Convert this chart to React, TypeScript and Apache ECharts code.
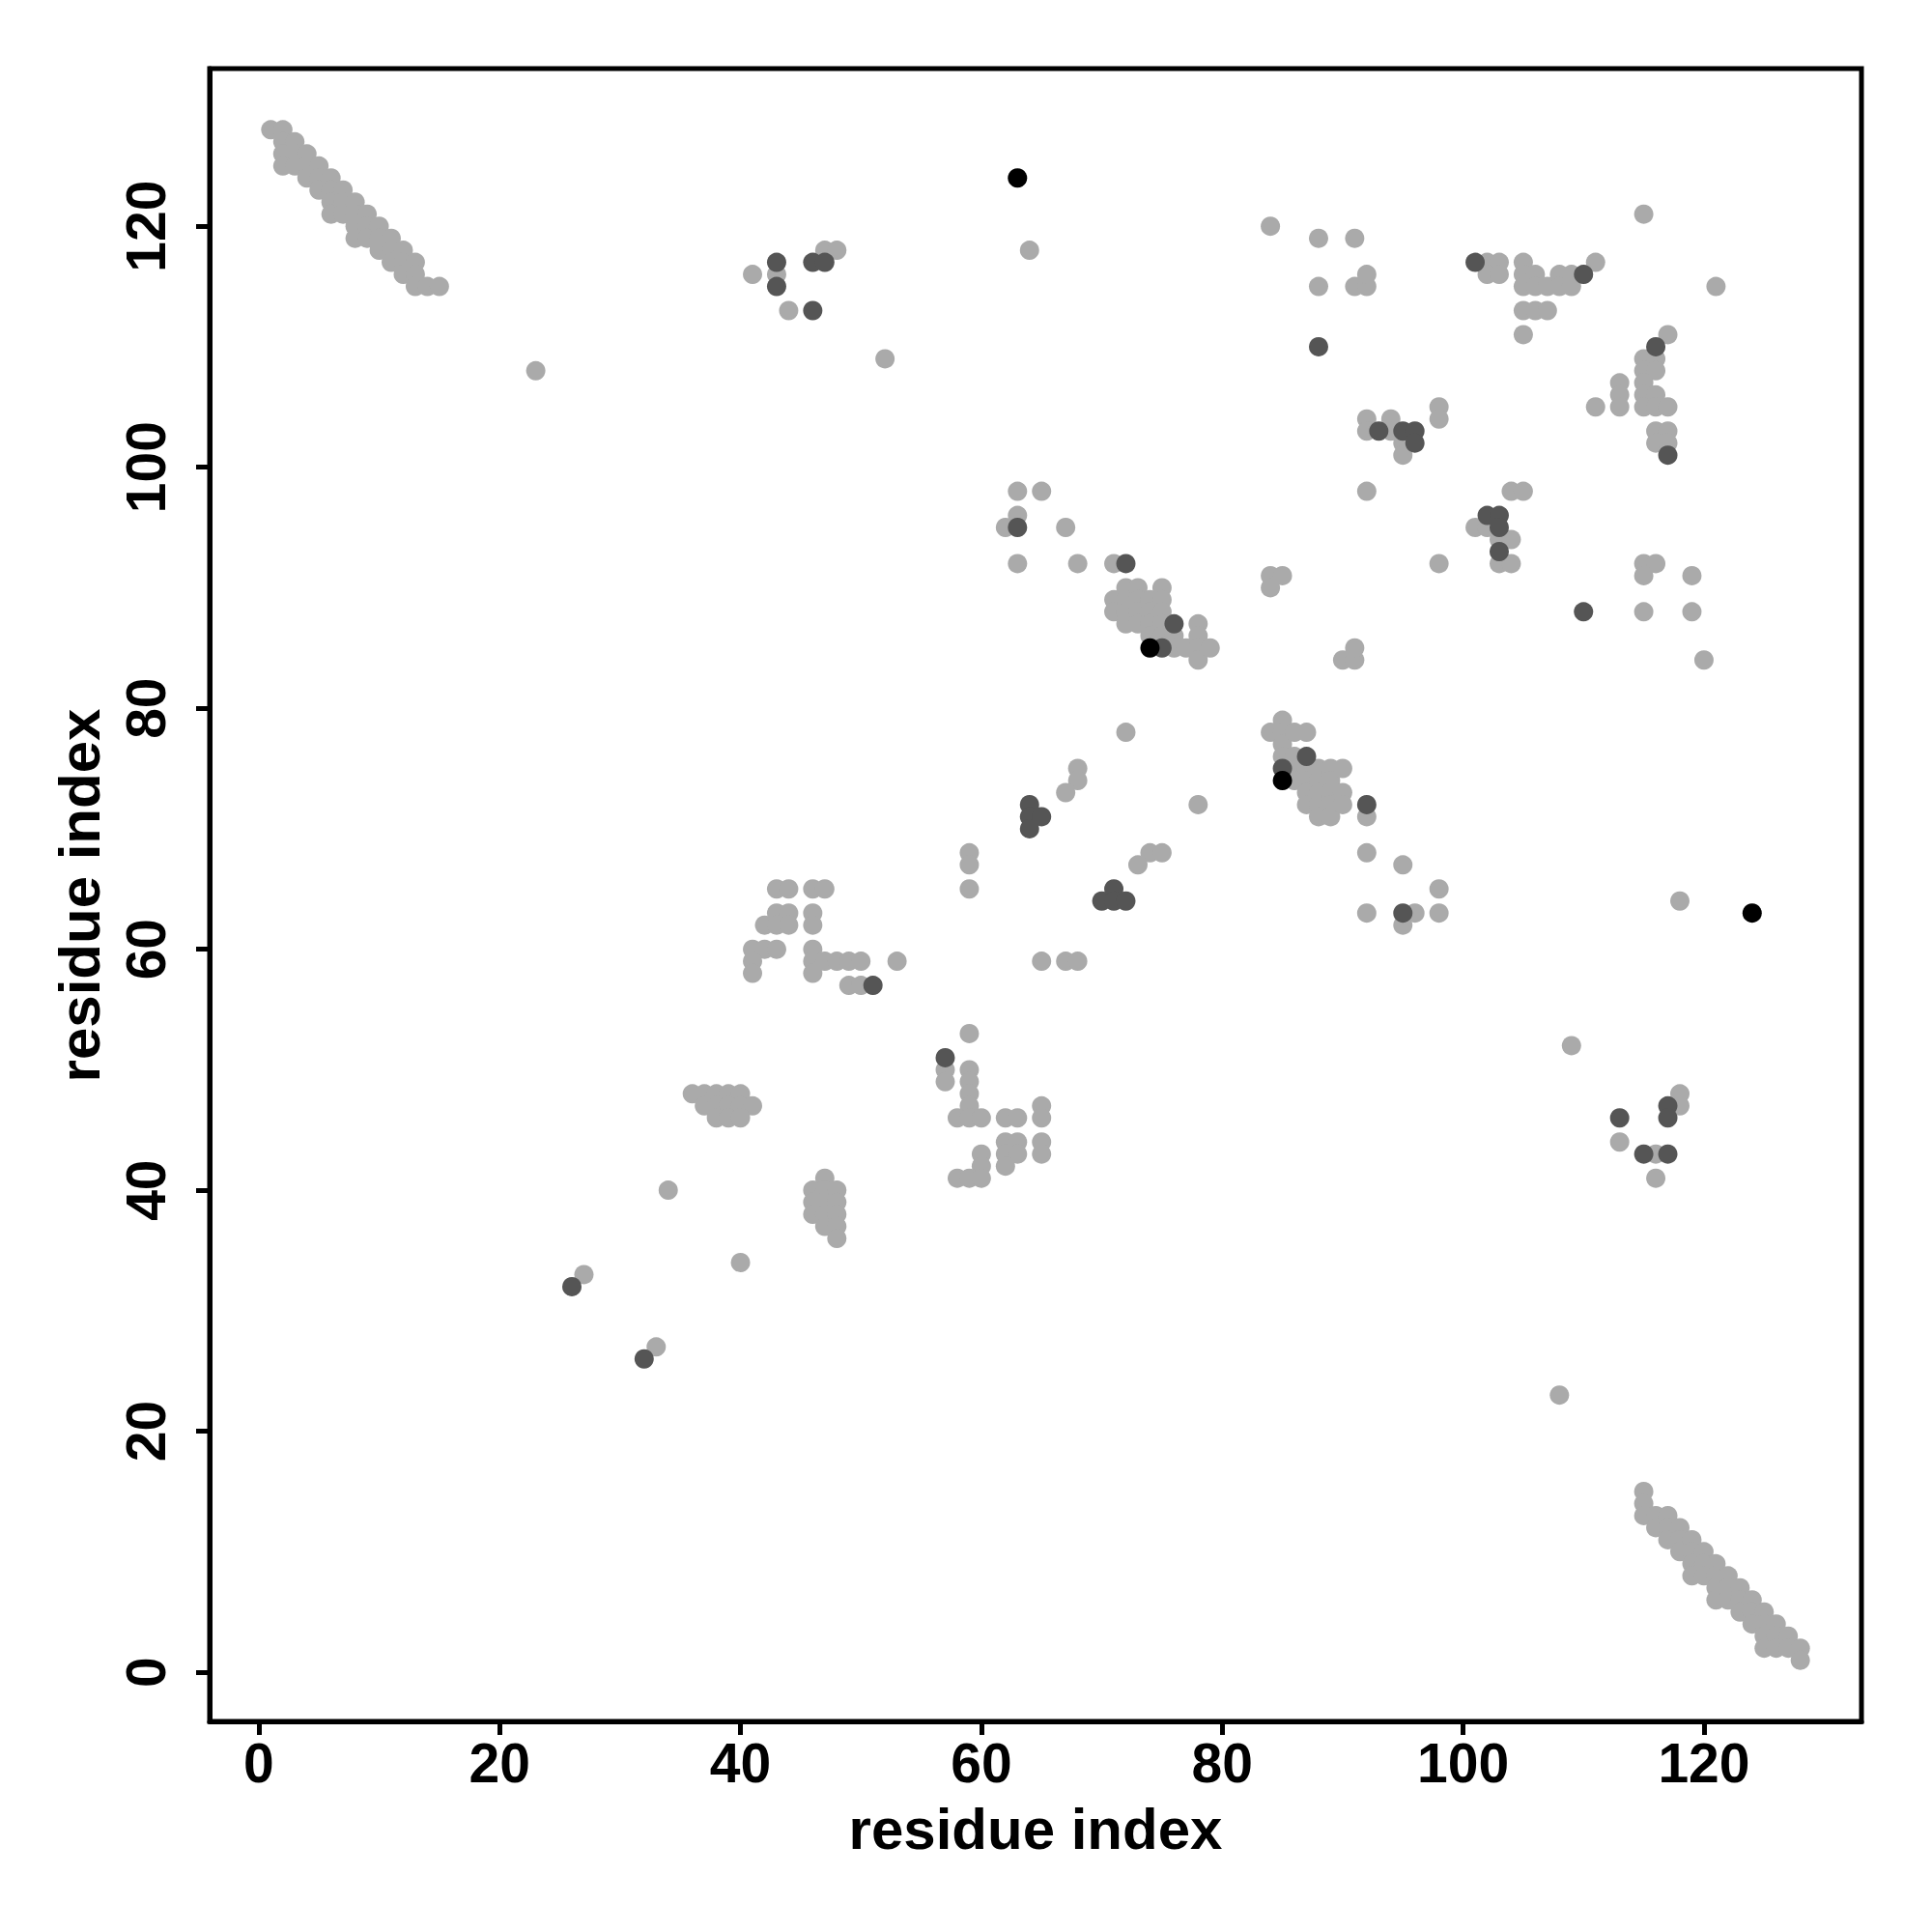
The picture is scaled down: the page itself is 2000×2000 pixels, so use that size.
import React, { useEffect, useRef } from "react";
import * as echarts from "echarts";

// contact pairs [residue i, residue j]
const lightPoints: number[][] = [
  [1,128],[2,128],[2,127],[2,126],[2,125],[3,127],[3,126],[3,125],[4,126],[4,125],[4,124],
  [5,125],[5,124],[5,123],[6,124],[6,123],[6,122],[6,121],[7,123],[7,122],[7,121],
  [8,122],[8,121],[8,120],[8,119],[9,121],[9,120],[9,119],[10,120],[10,119],[10,118],
  [11,119],[11,118],[11,117],[12,118],[12,117],[12,116],[13,117],[13,116],[13,115],[14,115],[15,115],
  [115,15],[115,14],[115,13],[116,13],[116,12],[117,13],[117,12],[117,11],[118,12],[118,11],[118,10],
  [119,11],[119,10],[119,9],[119,8],[120,10],[120,9],[120,8],[121,9],[121,8],[121,7],[121,6],
  [122,8],[122,7],[122,6],[123,7],[123,6],[123,5],[124,6],[124,5],[124,4],[125,5],[125,4],[125,3],[125,2],
  [126,4],[126,3],[126,2],[127,3],[127,2],[128,2],[128,1],
  [23,108],[27,33],[33,27],[34,40],[40,34],
  [36,48],[37,48],[38,48],[39,48],[40,48],[37,47],[38,47],[39,47],[40,47],[41,47],[38,46],[39,46],[40,46],
  [46,40],[46,39],[46,38],[47,41],[47,40],[47,39],[47,38],[47,37],[48,40],[48,39],[48,38],[48,37],[48,36],
  [43,65],[44,65],[46,65],[47,65],[43,63],[44,63],[46,63],[42,62],[43,62],[44,62],[46,62],
  [41,60],[42,60],[43,60],[46,60],[41,59],[46,59],[47,59],[48,59],[49,59],[50,59],[53,59],
  [41,58],[46,58],[49,57],[50,57],
  [41,116],[43,116],[44,113],[47,118],[48,118],[52,109],[64,118],
  [59,53],[57,50],[57,49],[59,50],[59,49],[59,48],[59,47],[58,46],[59,46],[60,46],[62,46],[63,46],
  [65,47],[65,46],[62,44],[63,44],[65,44],[62,43],[63,43],[65,43],[60,43],[60,42],[62,42],
  [58,41],[59,41],[60,41],
  [59,68],[59,67],[59,65],[65,59],[67,59],[68,59],[68,75],[68,74],[67,73],[72,78],[78,72],
  [74,68],[75,68],[73,67],
  [63,98],[65,98],[63,96],[62,95],[67,95],[63,92],[68,92],[71,92],[71,89],[71,88],
  [72,90],[72,89],[72,88],[72,87],[73,90],[73,89],[73,88],[73,87],[74,89],[74,88],[74,87],[74,86],
  [75,90],[75,89],[75,88],[75,87],[75,86],[76,86],[76,85],[77,85],[78,87],[78,86],[78,85],[78,84],[79,85],
  [84,78],[85,79],[85,78],[85,77],[85,76],[86,78],[87,78],[86,76],[86,75],[86,74],
  [87,75],[87,74],[87,73],[87,72],[88,75],[88,74],[88,73],[88,72],[88,71],
  [89,75],[89,74],[89,73],[89,72],[89,71],[90,75],[90,73],[90,72],
  [92,71],[92,68],[95,67],[98,65],[92,63],[96,63],[98,63],[95,62],
  [84,91],[85,91],[84,90],[90,84],[91,84],[91,85],[98,92],[92,98],
  [84,120],[88,119],[91,119],[88,115],[91,115],[92,115],[92,116],
  [92,104],[92,103],[94,104],[94,103],[95,102],[95,101],[98,105],[98,104],
  [115,121],[102,117],[103,117],[102,116],[103,116],[105,117],[105,116],[106,116],[105,115],[106,115],
  [107,115],[108,116],[109,116],[108,115],[109,115],[111,117],[105,113],[106,113],[107,113],[105,111],[121,115],
  [117,111],[115,109],[116,109],[115,108],[116,108],[115,107],[115,106],[116,106],[113,107],[113,106],[113,105],
  [111,105],[115,105],[116,105],[117,105],[116,103],[117,103],[116,102],[117,102],
  [104,98],[105,98],[101,95],[102,95],[103,94],[104,94],[103,92],[104,92],
  [115,92],[116,92],[115,91],[119,91],[115,88],[119,88],[120,84],
  [118,64],[109,52],[108,23],[113,44],[116,43],[116,41],[118,48],[118,47]
];

const darkPoints: number[][] = [
  [26,32],[32,26],[51,57],
  [43,117],[43,115],[46,117],[47,117],[46,113],
  [57,51],
  [64,72],[64,71],[65,71],[64,70],[70,64],[71,65],[71,64],[72,64],
  [63,95],[72,92],[76,87],[75,85],
  [87,76],[85,75],[92,72],[95,63],
  [88,110],[93,103],[95,103],[96,103],[96,102],
  [101,117],[110,116],[116,110],[117,101],[102,96],[103,96],[103,95],[103,93],[110,88],
  [113,46],[115,43],[117,43],[117,47],[117,46]
];

const blackPoints: number[][] = [
  [63,124],[74,85],[85,74],[124,63]
];

const xTicks = [0, 20, 40, 60, 80, 100, 120];
const yTicks = [0, 20, 40, 60, 80, 100, 120];
const axisTitleX = "residue index";
const axisTitleY = "residue index";

export default function App() {
  const ref = useRef<HTMLDivElement>(null);
  useEffect(() => {
    if (!ref.current) return;
    const chart = echarts.init(ref.current, null, { renderer: "svg" });
    const font = "'Liberation Sans', Arial, Helvetica, sans-serif";
    const labelStyle = {
      fontSize: 57,
      fontWeight: "bold" as const,
      fontFamily: font,
      color: "#000",
    };
    const mk = (name: string, data: number[][], color: string) => ({
      type: "scatter",
      name,
      data,
      symbol: "circle",
      symbolSize: 20,
      itemStyle: { color, opacity: 1 },
      emphasis: { disabled: true },
    });
    chart.setOption({
      animation: false,
      backgroundColor: "#fff",
      grid: {
        left: 217,
        top: 71,
        width: 1710,
        height: 1711,
        show: true,
        borderColor: "#000",
        borderWidth: 5,
        backgroundColor: "transparent",
      },
      xAxis: {
        type: "value",
        min: -4.08,
        max: 133.08,
        splitLine: { show: false },
        axisLine: { show: true, onZero: false, lineStyle: { color: "#000", width: 5 } },
        axisTick: {
          show: true,
          inside: false,
          length: 14,
          lineStyle: { color: "#000", width: 5 },
          customValues: xTicks,
        },
        axisLabel: { ...labelStyle, margin: 14, customValues: xTicks },
      },
      yAxis: {
        type: "value",
        min: -4.08,
        max: 133.08,
        splitLine: { show: false },
        axisLine: { show: true, onZero: false, lineStyle: { color: "#000", width: 5 } },
        axisTick: {
          show: true,
          inside: false,
          length: 14,
          lineStyle: { color: "#000", width: 5 },
          customValues: yTicks,
        },
        axisLabel: { ...labelStyle, margin: 38, rotate: 90, customValues: yTicks },
      },
      graphic: [
        {
          type: "text",
          x: 1072,
          y: 1893,
          style: {
            text: axisTitleX,
            fontSize: 60,
            fontWeight: "bold",
            fontFamily: font,
            fill: "#000",
            textAlign: "center",
            textVerticalAlign: "middle",
          },
        },
        {
          type: "text",
          x: 82,
          y: 927,
          rotation: Math.PI / 2,
          style: {
            text: axisTitleY,
            fontSize: 60,
            fontWeight: "bold",
            fontFamily: font,
            fill: "#000",
            textAlign: "center",
            textVerticalAlign: "middle",
          },
        },
      ],
      series: [
        mk("light", lightPoints, "#aaaaaa"),
        mk("dark", darkPoints, "#555555"),
        mk("black", blackPoints, "#000000"),
      ],
    });
    return () => chart.dispose();
  }, []);
  return (
    <div
      ref={ref}
      style={{ position: "absolute", left: 0, top: 0, width: 2000, height: 2000 }}
    />
  );
}
